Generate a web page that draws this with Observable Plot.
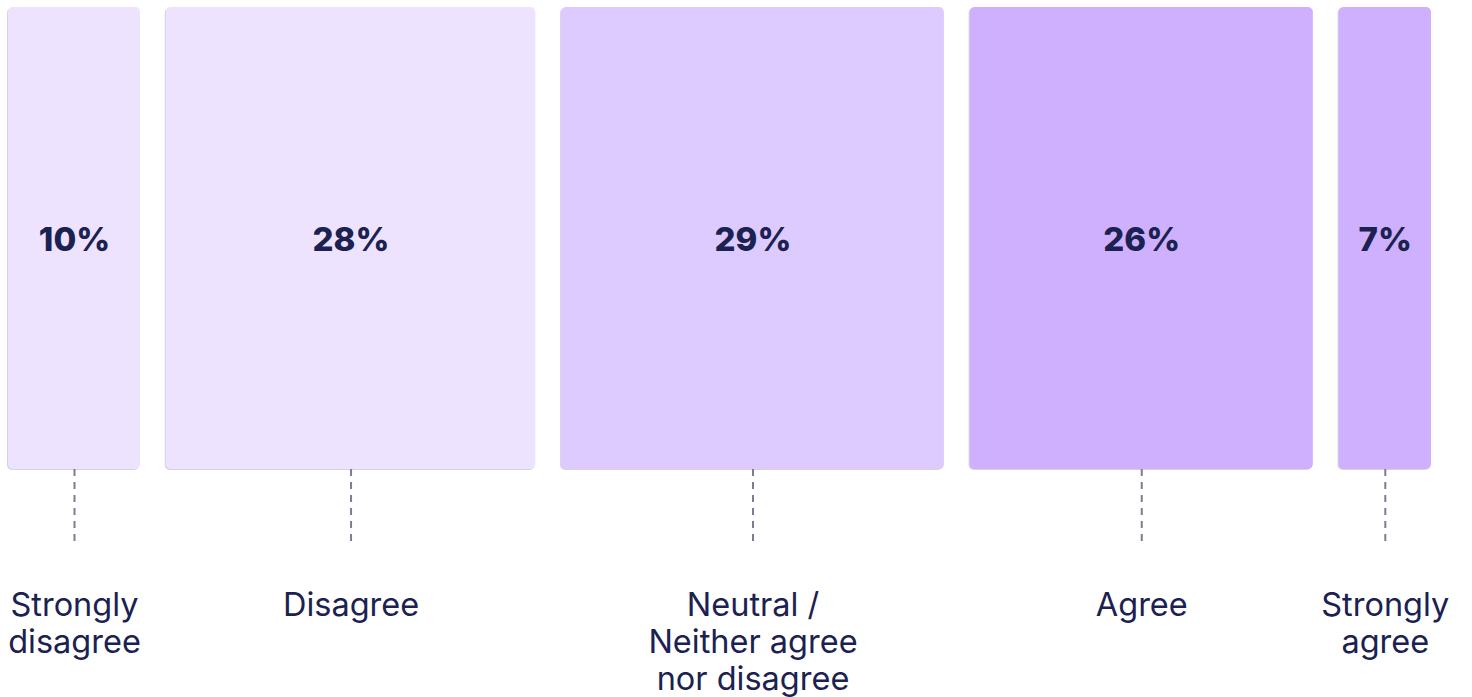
<!DOCTYPE html>
<html>
<head>
<meta charset="utf-8">
<script src="https://cdn.jsdelivr.net/npm/d3@7"></script>
<script src="https://cdn.jsdelivr.net/npm/@observablehq/plot@0.6"></script>
<style>
  html, body { margin: 0; padding: 0; background: #ffffff; }
  #chart svg { display: block; }
</style>
</head>
<body>
<div id="chart"></div>
<script>
// ---- data ----
const categories = ["Strongly disagree", "Disagree", "Neutral / Neither agree nor disagree", "Agree", "Strongly agree"];
const labelLines = ["Strongly\ndisagree", "Disagree", "Neutral /\nNeither agree\nnor disagree", "Agree", "Strongly\nagree"];
const shares = [10, 28, 29, 26, 7];
const colors = ["#ede3fe", "#ede3fe", "#ddcafe", "#cfb0fe", "#cfb0fe"];

// ---- layout (styles) ----
const W = 1472, H = 697;
const gap = 1.95;           // gap between boxes, in share units
const barTop = 7, barBottom = 469;
const dashTop = 469, dashBottom = 543;
const pctY = 240, labelY = 589;
const ink = "#1b2150";

let acc = 0;
const rows = shares.map((v, i) => {
  const x1 = acc + i * gap;
  const x2 = x1 + v;
  acc += v;
  return {category: categories[i], label: labelLines[i], value: v, x1, x2, xm: (x1 + x2) / 2, color: colors[i]};
});
const total = acc + gap * (shares.length - 1);

const chart = Plot.plot({
  width: W,
  height: H,
  margin: 0,
  style: {fontFamily: "Inter, 'Noto Sans', sans-serif", background: "#ffffff"},
  x: {domain: [0, total], range: [8, 1431], axis: null},
  y: {domain: [0, H], range: [0, H], axis: null},
  marks: [
    // subtle edge shadow
    Plot.rect(rows, {x1: "x1", x2: "x2", y1: barTop, y2: barBottom, fill: "#d6d2e2", rx: 5, dx: -1, dy: 1}),
    Plot.rect(rows, {x1: "x1", x2: "x2", y1: barTop, y2: barBottom, fill: "color", rx: 5}),
    Plot.ruleX(rows, {x: "xm", y1: dashTop, y2: dashBottom, stroke: "#7b7d93", strokeWidth: 2, strokeDasharray: "7,6"}),
    Plot.text(rows, {x: "xm", y: pctY, text: d => d.value + "%", fill: ink, fontSize: 33, fontWeight: 800, textAnchor: "middle"}),
    Plot.text(rows, {x: "xm", y: labelY, text: "label", fill: ink, fontSize: 32.5, lineHeight: 1.14, lineAnchor: "top", textAnchor: "middle"})
  ]
});
document.getElementById("chart").appendChild(chart);
</script>
</body>
</html>
